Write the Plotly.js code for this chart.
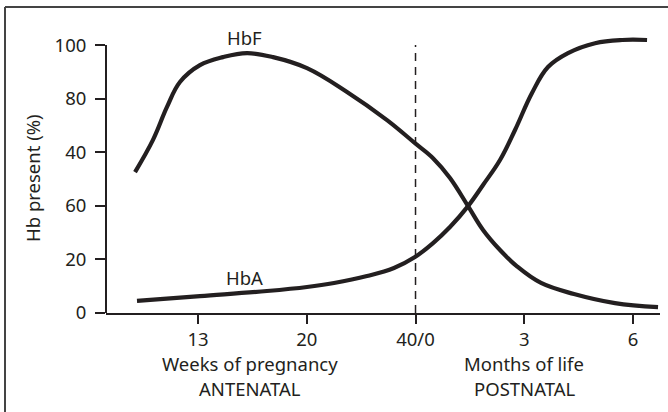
<!DOCTYPE html>
<html>
<head>
<meta charset="utf-8">
<script src="https://cdn.plot.ly/plotly-3.0.1.min.js"></script>
<style>
  html, body { margin: 0; padding: 0; background: #fff; }
  #chart { width: 668px; height: 412px; }
</style>
</head>
<body>
<div id="chart"></div>
<script>
// Category positions along the x axis and their labels
const xTickVals = [1, 2, 3, 4, 5];
const xTickText = ['13', '20', '40/0', '3', '6'];

// Y tick labels exactly as printed in the source figure
const yTickVals = [0, 20, 40, 60, 80, 100];
const yTickText = ['0', '20', '60', '40', '80', '100'];

// HbF curve (x in tick-position units, y in % of axis height)
const hbfX = [0.421, 0.586, 0.715, 0.834, 1.018, 1.230, 1.451, 1.690, 2.002, 2.370, 2.738, 2.995, 3.161, 3.317, 3.483, 3.621, 3.777, 3.933, 4.154, 4.457, 4.834, 5.230];
const hbfY = [52.6, 64.6, 76.9, 86.2, 92.5, 95.5, 97.0, 95.5, 91.4, 82.5, 72.0, 63.4, 57.8, 50.4, 39.9, 31.0, 23.5, 17.4, 11.2, 7.1, 3.7, 2.2];

// HbA curve
const hbaX = [0.439, 1.018, 1.634, 2.002, 2.251, 2.554, 2.802, 2.995, 3.161, 3.317, 3.483, 3.621, 3.777, 3.915, 4.071, 4.218, 4.402, 4.651, 4.899, 5.129];
const hbaY = [4.5, 6.3, 8.2, 9.7, 11.2, 13.8, 16.8, 20.9, 26.1, 32.1, 39.9, 47.8, 57.1, 68.3, 82.1, 91.8, 97.0, 100.7, 101.9, 101.9];

// Birth marker position
const birthX = 3;

const ink = '#231f20';
const font = { family: 'Noto Sans, Open Sans, sans-serif', size: 18.5, color: ink };

const W = 668, H = 412;
const M = { l: 106, r: 8, t: 29, b: 99 };
const plotW = W - M.l - M.r, plotH = H - M.t - M.b;
const px2paperX = p => (p - M.l) / plotW;
const py2paperY = p => (H - M.b - p) / plotH;

const lineStyle = { color: ink, width: 4.2, shape: 'spline', smoothing: 1.1 };
const traces = [
  { x: hbfX, y: hbfY, mode: 'lines', line: lineStyle, hoverinfo: 'skip', name: 'HbF' },
  { x: hbaX, y: hbaY, mode: 'lines', line: lineStyle, hoverinfo: 'skip', name: 'HbA' }
];

const layout = {
  width: W, height: H,
  margin: M,
  paper_bgcolor: '#fff', plot_bgcolor: '#fff',
  showlegend: false,
  font: font,
  xaxis: {
    range: [0.154, 5.248],
    tickvals: xTickVals, ticktext: xTickText,
    ticks: 'outside', ticklen: 9, tickwidth: 2, tickcolor: ink,
    showline: true, linewidth: 2, linecolor: ink,
    showgrid: false, zeroline: false,
    tickfont: font, fixedrange: true
  },
  yaxis: {
    range: [0, 106],
    tickvals: yTickVals, ticktext: yTickText,
    ticks: 'outside', ticklen: 10, tickwidth: 2, tickcolor: ink,
    ticklabelstandoff: 5,
    showline: false, showgrid: false, zeroline: false,
    tickfont: font, fixedrange: true
  },
  shapes: [
    // y axis line from 0 to 100
    { type: 'line', xref: 'paper', yref: 'y', x0: 0, x1: 0, y0: 0, y1: 100, line: { color: ink, width: 2 } },
    // birth dashed line
    { type: 'line', xref: 'x', yref: 'y', x0: birthX, x1: birthX, y0: 0, y1: 100, line: { color: ink, width: 1.5, dash: '8px,6px' } },
    // outer frame (left and top)
    { type: 'line', xref: 'paper', yref: 'paper', x0: px2paperX(5), x1: px2paperX(5), y0: py2paperY(7), y1: py2paperY(412), line: { color: '#444', width: 2 } },
    { type: 'line', xref: 'paper', yref: 'paper', x0: px2paperX(5), x1: px2paperX(668), y0: py2paperY(7), y1: py2paperY(7), line: { color: '#444', width: 2 } }
  ],
  annotations: [
    { text: 'HbF', x: 1.43, y: 103, xref: 'x', yref: 'y', xanchor: 'center', yanchor: 'middle', showarrow: false, font: font },
    { text: 'HbA', x: 1.43, y: 13.4, xref: 'x', yref: 'y', xanchor: 'center', yanchor: 'middle', showarrow: false, font: font },
    { text: 'Weeks of pregnancy', x: 1.48, y: py2paperY(363), xref: 'x', yref: 'paper', xanchor: 'center', yanchor: 'middle', showarrow: false, font: font },
    { text: 'ANTENATAL', x: 1.48, y: py2paperY(388), xref: 'x', yref: 'paper', xanchor: 'center', yanchor: 'middle', showarrow: false, font: font },
    { text: 'Months of life', x: 4.0, y: py2paperY(363), xref: 'x', yref: 'paper', xanchor: 'center', yanchor: 'middle', showarrow: false, font: font },
    { text: 'POSTNATAL', x: 4.0, y: py2paperY(388), xref: 'x', yref: 'paper', xanchor: 'center', yanchor: 'middle', showarrow: false, font: font },
    { text: 'Hb present (%)', x: px2paperX(32), y: py2paperY(178), xref: 'paper', yref: 'paper', xanchor: 'center', yanchor: 'middle', textangle: -90, showarrow: false, font: font }
  ]
};

Plotly.newPlot('chart', traces, layout, { displayModeBar: false, staticPlot: true });
</script>
</body>
</html>
